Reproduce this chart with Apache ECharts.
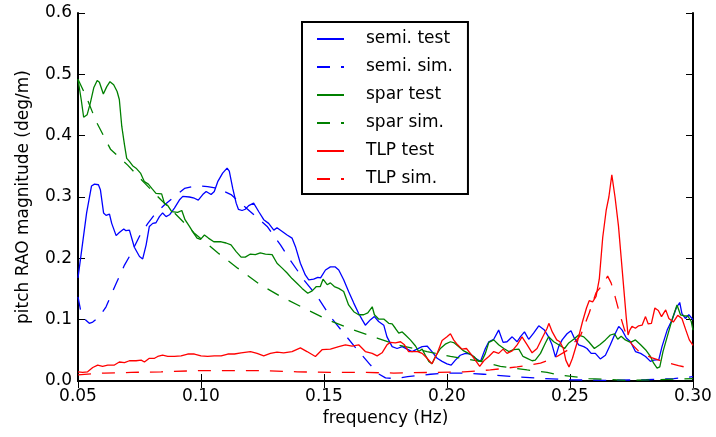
<!DOCTYPE html>
<html>
<head>
<meta charset="utf-8">
<script src="https://cdn.jsdelivr.net/npm/echarts@6/dist/echarts.min.js"></script>
<style>html,body{margin:0;padding:0;background:#fff;}#c{width:716px;height:437px;}</style>
</head>
<body>
<div id="c"></div>
<script>
const xTicks = [0.05, 0.10, 0.15, 0.20, 0.25, 0.30];
const yTicks = [0.0, 0.1, 0.2, 0.3, 0.4, 0.5, 0.6];
const seriesNames = ["semi. test", "semi. sim.", "spar test", "spar sim.", "TLP test", "TLP sim."];

const semiTestF = [0.0500,0.0535,0.0555,0.0567,0.0583,0.0591,0.0604,0.0614,0.0628,0.0637,0.0655,0.0668,0.0686,0.0695,0.0709,0.0729,0.0750,0.0763,0.0777,0.0790,0.0804,0.0817,0.0831,0.0844,0.0858,0.0872,0.0892,0.0912,0.0926,0.0953,0.0973,0.0989,0.1007,0.1021,0.1041,0.1054,0.1068,0.1088,0.1106,0.1115,0.1129,0.1143,0.1152,0.1167,0.1180,0.1194,0.1214,0.1235,0.1255,0.1275,0.1296,0.1309,0.1326,0.1350,0.1370,0.1384,0.1404,0.1424,0.1438,0.1458,0.1475,0.1486,0.1506,0.1526,0.1546,0.1560,0.1580,0.1600,0.1621,0.1641,0.1655,0.1668,0.1689,0.1705,0.1722,0.1743,0.1756,0.1777,0.1797,0.1818,0.1838,0.1858,0.1878,0.1899,0.1919,0.1939,0.1960,0.1980,0.2000,0.2017,0.2034,0.2054,0.2075,0.2095,0.2115,0.2136,0.2156,0.2170,0.2190,0.2210,0.2228,0.2244,0.2265,0.2285,0.2298,0.2315,0.2332,0.2352,0.2373,0.2396,0.2413,0.2427,0.2441,0.2454,0.2468,0.2488,0.2504,0.2515,0.2535,0.2556,0.2569,0.2586,0.2603,0.2623,0.2644,0.2664,0.2681,0.2698,0.2712,0.2729,0.2746,0.2766,0.2787,0.2807,0.2827,0.2840,0.2861,0.2874,0.2895,0.2915,0.2932,0.2946,0.2955,0.2969,0.2983,0.3000];
const semiTestV = [0.168,0.274,0.318,0.321,0.320,0.312,0.274,0.270,0.272,0.257,0.237,0.242,0.248,0.245,0.246,0.218,0.203,0.199,0.222,0.252,0.257,0.258,0.268,0.274,0.268,0.271,0.282,0.295,0.301,0.300,0.298,0.295,0.304,0.309,0.304,0.309,0.325,0.339,0.347,0.342,0.314,0.290,0.280,0.278,0.280,0.286,0.290,0.276,0.263,0.257,0.246,0.250,0.245,0.238,0.233,0.219,0.192,0.173,0.165,0.166,0.169,0.168,0.181,0.186,0.186,0.181,0.165,0.146,0.127,0.110,0.100,0.091,0.100,0.105,0.097,0.091,0.072,0.056,0.053,0.056,0.052,0.048,0.052,0.056,0.057,0.048,0.037,0.032,0.028,0.026,0.034,0.042,0.045,0.044,0.037,0.032,0.053,0.064,0.068,0.083,0.063,0.064,0.072,0.064,0.072,0.080,0.068,0.078,0.090,0.083,0.072,0.059,0.039,0.056,0.067,0.077,0.082,0.072,0.059,0.056,0.053,0.045,0.045,0.036,0.042,0.059,0.075,0.089,0.083,0.070,0.064,0.048,0.045,0.040,0.032,0.034,0.035,0.056,0.083,0.100,0.119,0.128,0.110,0.102,0.108,0.100];

const semiSimF = [0.0500,0.0513,0.0530,0.0546,0.0560,0.0587,0.0614,0.0655,0.0689,0.0709,0.0750,0.0784,0.0811,0.0851,0.0885,0.0933,0.0966,0.1000,0.1027,0.1068,0.1122,0.1147,0.1201,0.1269,0.1323,0.1363,0.1418,0.1472,0.1526,0.1580,0.1635,0.1689,0.1720,0.1750,0.1790,0.1840,0.1933,0.2000,0.2068,0.2149,0.2271,0.2393,0.2500,0.2640,0.2810,0.2922,0.3000];
const semiSimV = [0.137,0.110,0.100,0.094,0.096,0.105,0.121,0.159,0.189,0.203,0.236,0.257,0.271,0.287,0.298,0.314,0.317,0.318,0.317,0.314,0.304,0.295,0.276,0.252,0.222,0.197,0.165,0.138,0.105,0.078,0.051,0.026,0.012,0.005,0.004,0.007,0.011,0.013,0.013,0.011,0.007,0.004,0.002,0.001,0.002,0.004,0.007];

const sparTestF = [0.0500,0.0513,0.0523,0.0537,0.0550,0.0564,0.0578,0.0587,0.0603,0.0617,0.0630,0.0645,0.0659,0.0668,0.0678,0.0689,0.0698,0.0709,0.0722,0.0736,0.0754,0.0770,0.0786,0.0800,0.0817,0.0840,0.0851,0.0865,0.0881,0.0905,0.0922,0.0935,0.0953,0.0970,0.0984,0.0998,0.1014,0.1030,0.1052,0.1082,0.1102,0.1122,0.1143,0.1163,0.1180,0.1201,0.1221,0.1241,0.1262,0.1289,0.1309,0.1330,0.1350,0.1370,0.1391,0.1411,0.1434,0.1452,0.1469,0.1485,0.1496,0.1513,0.1526,0.1542,0.1560,0.1580,0.1600,0.1621,0.1641,0.1661,0.1678,0.1696,0.1705,0.1722,0.1743,0.1763,0.1777,0.1790,0.1804,0.1818,0.1831,0.1851,0.1872,0.1885,0.1899,0.1912,0.1926,0.1939,0.1953,0.1973,0.1993,0.2014,0.2030,0.2048,0.2068,0.2088,0.2109,0.2129,0.2143,0.2156,0.2170,0.2190,0.2210,0.2231,0.2251,0.2271,0.2292,0.2309,0.2326,0.2346,0.2359,0.2380,0.2400,0.2413,0.2434,0.2454,0.2478,0.2495,0.2515,0.2535,0.2556,0.2576,0.2599,0.2621,0.2644,0.2664,0.2681,0.2694,0.2708,0.2725,0.2746,0.2766,0.2787,0.2807,0.2827,0.2840,0.2854,0.2865,0.2878,0.2895,0.2915,0.2935,0.2949,0.2965,0.2979,0.2993,0.3000];
const sparTestV = [0.492,0.459,0.430,0.434,0.453,0.478,0.490,0.487,0.468,0.480,0.488,0.483,0.472,0.459,0.415,0.385,0.363,0.358,0.351,0.347,0.339,0.325,0.321,0.314,0.306,0.305,0.290,0.286,0.276,0.275,0.278,0.263,0.252,0.241,0.233,0.231,0.238,0.233,0.227,0.227,0.225,0.222,0.211,0.202,0.202,0.207,0.206,0.209,0.207,0.206,0.192,0.184,0.176,0.167,0.159,0.151,0.143,0.147,0.154,0.154,0.166,0.157,0.160,0.154,0.151,0.146,0.124,0.113,0.108,0.108,0.111,0.121,0.108,0.101,0.101,0.094,0.093,0.086,0.078,0.080,0.075,0.067,0.057,0.048,0.052,0.042,0.032,0.028,0.040,0.053,0.060,0.064,0.062,0.056,0.049,0.045,0.040,0.032,0.034,0.045,0.063,0.067,0.059,0.053,0.048,0.051,0.052,0.040,0.037,0.033,0.034,0.045,0.062,0.072,0.064,0.059,0.053,0.062,0.068,0.075,0.072,0.064,0.053,0.059,0.067,0.075,0.077,0.068,0.073,0.067,0.063,0.067,0.059,0.051,0.040,0.029,0.021,0.023,0.048,0.072,0.100,0.124,0.108,0.106,0.106,0.097,0.083];

const sparSimF = [0.0500,0.0533,0.0574,0.0632,0.0702,0.0770,0.0838,0.0892,0.0973,0.1068,0.1149,0.1241,0.1323,0.1418,0.1513,0.1621,0.1716,0.1797,0.1919,0.2014,0.2136,0.2217,0.2326,0.2407,0.2455,0.2576,0.2727,0.2854,0.3000];
const sparSimV = [0.492,0.464,0.423,0.378,0.352,0.323,0.295,0.274,0.241,0.209,0.184,0.157,0.138,0.119,0.100,0.083,0.070,0.059,0.048,0.040,0.032,0.024,0.018,0.014,0.010,0.004,0.001,0.002,0.004];

const tlpTestF = [0.0500,0.0519,0.0539,0.0560,0.0580,0.0600,0.0621,0.0648,0.0668,0.0689,0.0709,0.0736,0.0757,0.0770,0.0790,0.0811,0.0824,0.0844,0.0865,0.0892,0.0919,0.0946,0.0973,0.1000,0.1027,0.1054,0.1082,0.1109,0.1136,0.1163,0.1201,0.1228,0.1255,0.1282,0.1309,0.1336,0.1370,0.1404,0.1431,0.1465,0.1492,0.1526,0.1560,0.1587,0.1614,0.1641,0.1668,0.1696,0.1716,0.1736,0.1756,0.1770,0.1790,0.1811,0.1827,0.1844,0.1865,0.1881,0.1899,0.1919,0.1939,0.1960,0.1980,0.2000,0.2014,0.2027,0.2043,0.2061,0.2079,0.2095,0.2115,0.2133,0.2152,0.2170,0.2190,0.2210,0.2228,0.2244,0.2265,0.2285,0.2305,0.2326,0.2346,0.2366,0.2387,0.2407,0.2414,0.2428,0.2446,0.2459,0.2473,0.2483,0.2496,0.2510,0.2530,0.2551,0.2567,0.2578,0.2592,0.2606,0.2619,0.2633,0.2647,0.2658,0.2670,0.2683,0.2697,0.2708,0.2719,0.2729,0.2736,0.2743,0.2752,0.2766,0.2779,0.2793,0.2807,0.2818,0.2831,0.2845,0.2859,0.2872,0.2889,0.2902,0.2920,0.2938,0.2955,0.2971,0.2985,0.3000];
const tlpTestV = [0.015,0.014,0.015,0.022,0.026,0.024,0.026,0.026,0.031,0.030,0.033,0.033,0.034,0.031,0.037,0.037,0.040,0.042,0.040,0.040,0.041,0.044,0.044,0.041,0.040,0.041,0.041,0.044,0.044,0.046,0.048,0.045,0.041,0.045,0.047,0.046,0.048,0.054,0.048,0.040,0.051,0.052,0.056,0.059,0.057,0.059,0.048,0.045,0.041,0.046,0.059,0.063,0.062,0.064,0.059,0.048,0.048,0.048,0.045,0.037,0.028,0.045,0.066,0.072,0.077,0.067,0.059,0.052,0.053,0.045,0.034,0.024,0.034,0.040,0.048,0.045,0.052,0.045,0.049,0.059,0.072,0.059,0.046,0.053,0.070,0.086,0.094,0.080,0.067,0.064,0.053,0.034,0.023,0.037,0.064,0.097,0.119,0.131,0.129,0.138,0.166,0.234,0.278,0.300,0.336,0.300,0.253,0.201,0.149,0.102,0.075,0.083,0.089,0.086,0.090,0.091,0.105,0.093,0.094,0.119,0.115,0.105,0.116,0.102,0.096,0.107,0.102,0.083,0.067,0.058];

const tlpSimF = [0.0500,0.0607,0.0716,0.0838,0.1000,0.1163,0.1255,0.1391,0.1526,0.1661,0.1783,0.1946,0.2068,0.2176,0.2285,0.2380,0.2435,0.2489,0.2544,0.2578,0.2606,0.2633,0.2653,0.2667,0.2683,0.2701,0.2722,0.2749,0.2783,0.2831,0.2886,0.2941,0.3000];
const tlpSimV = [0.010,0.013,0.014,0.015,0.017,0.017,0.017,0.015,0.014,0.014,0.013,0.014,0.015,0.018,0.023,0.029,0.037,0.050,0.075,0.111,0.144,0.157,0.171,0.160,0.138,0.111,0.083,0.061,0.047,0.038,0.031,0.025,0.020];

const FONT = 'DejaVu Sans';
const DASH = [13, 11];
function pairs(f, v) { return f.map((x, i) => [x, v[i]]); }
function mk(name, f, v, color, dashed) {
  return {
    name: name, type: 'line', data: pairs(f, v),
    showSymbol: false, symbol: 'none', silent: true,
    lineStyle: { color: color, width: 1.3, type: dashed ? DASH : 'solid' },
    itemStyle: { color: color }
  };
}

const chart = echarts.init(document.getElementById('c'), null, { renderer: 'canvas' });
const tickStyle = { show: true, inside: true, length: 7, lineStyle: { color: '#000', width: 1 } };
const lineStyleAx = { show: true, lineStyle: { color: '#000', width: 2 } };
chart.setOption({
  animation: false,
  backgroundColor: '#fff',
  textStyle: { fontFamily: FONT },
  grid: { left: 78, right: 23, top: 13, bottom: 56, containLabel: false },
  legend: {
    orient: 'vertical', left: 302, top: 22,
    itemWidth: 27, itemHeight: 10, itemGap: 8,
    padding: [7, 15, 5, 14],
    borderColor: '#000', borderWidth: 2, backgroundColor: '#fff',
    itemStyle: { opacity: 0 },
    textStyle: { fontFamily: FONT, fontSize: 17, color: '#000', lineHeight: 20, padding: [0, 0, 0, 17] },
    data: seriesNames,
    selectedMode: false
  },
  xAxis: [
    { type: 'value', min: xTicks[0], max: xTicks[xTicks.length - 1], interval: 0.05, position: 'bottom',
      name: 'frequency (Hz)', nameLocation: 'middle', nameGap: 29,
      nameTextStyle: { fontFamily: FONT, fontSize: 17, color: '#000' },
      axisLine: lineStyleAx, axisTick: tickStyle, splitLine: { show: false },
      axisLabel: { fontFamily: FONT, fontSize: 17, color: '#000', margin: 7, formatter: v => v.toFixed(2) } },
    { type: 'value', min: xTicks[0], max: xTicks[xTicks.length - 1], interval: 0.05, position: 'top',
      axisLine: lineStyleAx, axisTick: tickStyle, splitLine: { show: false }, axisLabel: { show: false } }
  ],
  yAxis: [
    { type: 'value', min: yTicks[0], max: yTicks[yTicks.length - 1], interval: 0.1, position: 'left',
      name: 'pitch RAO magnitude (deg/m)', nameLocation: 'middle', nameGap: 46,
      nameTextStyle: { fontFamily: FONT, fontSize: 17, color: '#000' },
      axisLine: lineStyleAx, axisTick: tickStyle, splitLine: { show: false },
      axisLabel: { fontFamily: FONT, fontSize: 17, color: '#000', margin: 6, formatter: v => v.toFixed(1) } },
    { type: 'value', min: yTicks[0], max: yTicks[yTicks.length - 1], interval: 0.1, position: 'right',
      axisLine: lineStyleAx, axisTick: tickStyle, splitLine: { show: false }, axisLabel: { show: false } }
  ],
  series: [
    mk(seriesNames[0], semiTestF, semiTestV, '#0000ff', false),
    mk(seriesNames[1], semiSimF, semiSimV, '#0000ff', true),
    mk(seriesNames[2], sparTestF, sparTestV, '#008000', false),
    mk(seriesNames[3], sparSimF, sparSimV, '#008000', true),
    mk(seriesNames[4], tlpTestF, tlpTestV, '#ff0000', false),
    mk(seriesNames[5], tlpSimF, tlpSimV, '#ff0000', true)
  ]
});
</script>
</body>
</html>
